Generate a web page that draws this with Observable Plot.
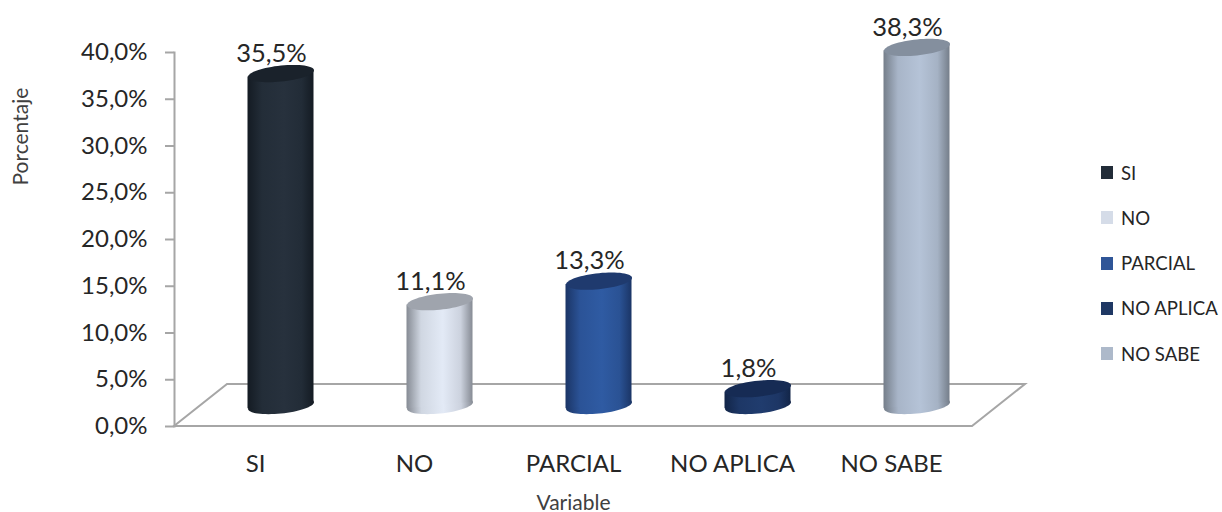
<!DOCTYPE html>
<html>
<head>
<meta charset="utf-8">
<script src="https://cdn.jsdelivr.net/npm/d3@7"></script>
<script src="https://cdn.jsdelivr.net/npm/@observablehq/plot@0.6"></script>
<style>
  html, body { margin: 0; padding: 0; background: #fff; }
  #chart { position: relative; width: 1222px; height: 512px; overflow: hidden; font-family: Lato, sans-serif; }
  #chart svg { display: block; position: absolute; left: 0; top: 0; }
  #legend { position: absolute; left: 1101px; top: 158.5px; }
  .item { height: 45.3px; line-height: 28px; display: flex; align-items: flex-start; font-size: 18.6px; color: #262626; white-space: nowrap; }
  .swatch { width: 12px; height: 13px; margin: 7.5px 8px 0 0; flex: none; }
</style>
</head>
<body>
<div id="chart"><div id="legend"></div></div>
<script>
const categories = ["SI", "NO", "PARCIAL", "NO APLICA", "NO SABE"];
const percentages = [35.5, 11.1, 13.3, 1.8, 38.3];
const yTicks = [0, 5, 10, 15, 20, 25, 30, 35, 40];
const swatchColors = ["#222c38", "#d5dce8", "#2f5597", "#1f3864", "#adb9ca"];
const capColors = ["#1a222b", "#9fa4ad", "#1f3a6e", "#162b54", "#848f9e"];
const edgeColors = ["#141b23", "#868b94", "#1b3566", "#122548", "#757e8a"];
const midColors = ["#27313d", "#e3eaf6", "#2f5ba3", "#203c6e", "#b5c3d7"];

const depthX = 53, depthY = 42, skew = 0.1, capA = 33, capB = 8;
const axisGrey = "#a6a6a6";
const rows = categories.map((category, i) => ({category, value: percentages[i], i}));
const pct = (v) => v.toFixed(1).replace(".", ",") + "%";
const gradient = (d) => `url(#cyl-${d.i})`;

const ellipse = {
  draw(context) {
    for (let k = 0; k < 64; ++k) {
      const t = (k / 64) * 2 * Math.PI;
      const px = capA * Math.cos(t);
      const py = capB * Math.sin(t) - skew * px;
      if (k === 0) context.moveTo(px, py); else context.lineTo(px, py);
    }
    context.closePath();
  }
};

function defsMark() {
  const defs = d3.create("svg:defs");
  rows.forEach((d) => {
    const g = defs.append("linearGradient").attr("id", `cyl-${d.i}`).attr("x1", 0).attr("x2", 1).attr("y1", 0).attr("y2", 0);
    [[0, edgeColors[d.i]], [0.22, d3.interpolateRgb(edgeColors[d.i], midColors[d.i])(0.8)], [0.55, midColors[d.i]], [0.82, d3.interpolateRgb(edgeColors[d.i], midColors[d.i])(0.75)], [1, edgeColors[d.i]]]
      .forEach(([o, c]) => g.append("stop").attr("offset", o).attr("stop-color", c));
  });
  return defs.node();
}

function floorMark(index, scales, values, dims) {
  const y0 = scales.y(0), l = dims.marginLeft, r = dims.width - dims.marginRight;
  return d3.create("svg:path")
    .attr("d", `M${l},${y0}L${r},${y0}L${r + depthX},${y0 - depthY}L${l + depthX},${y0 - depthY}Z`)
    .attr("fill", "none").attr("stroke", axisGrey).attr("stroke-width", 2).node();
}

const skewRects = (index, scales, values, dims, context, next) => {
  const g = next(index, scales, values, dims, context);
  d3.select(g).selectAll("rect").attr("transform", function () {
    const cx = +this.getAttribute("x") + this.getAttribute("width") / 2;
    return `matrix(1,${-skew},0,1,0,${skew * cx})`;
  });
  return g;
};

const offset = {dx: 25.5, dy: -depthY / 2};

const plot = Plot.plot({
  width: 1222, height: 512,
  marginLeft: 174, marginRight: 250, marginTop: 52, marginBottom: 86,
  style: {fontFamily: "Lato, sans-serif", background: "transparent", overflow: "visible"},
  color: {type: "identity"},
  x: {domain: categories, paddingInner: 0.586, paddingOuter: 0.293, label: null},
  y: {domain: [0, 40], label: null},
  marks: [
    defsMark,
    floorMark,
    Plot.frame({anchor: "left", stroke: axisGrey, strokeWidth: 2, strokeOpacity: 1}),
    Plot.axisY(yTicks, {tickFormat: pct, tickSize: 9, tickPadding: 18, stroke: axisGrey, strokeWidth: 2, fontSize: 24, fill: "#262626", label: null, textStroke: "none"}),
    Plot.axisX({tickSize: 0, tickPadding: 28, fontSize: 24, fill: "#262626", label: null}),
    Plot.dot(rows, {x: "category", y: () => 0, symbol: ellipse, fill: gradient, ...offset}),
    Plot.barY(rows, {x: "category", y: "value", fill: gradient, render: skewRects, ...offset}),
    Plot.dot(rows, {x: "category", y: "value", symbol: ellipse, fill: (d) => capColors[d.i], ...offset}),
    Plot.text(rows, {x: "category", y: "value", text: (d) => pct(d.value), dx: 16, dy: -41, fontSize: 25.5, fill: "#262626"}),
    Plot.text(["Porcentaje"], {frameAnchor: "top-left", dx: -161, dy: 133, rotate: -90, fontSize: 21, fill: "#404040"}),
    Plot.text(["Variable"], {frameAnchor: "bottom", dy: 83, fontSize: 21, fill: "#404040"})
  ]
});
document.getElementById("chart").prepend(plot);

const legend = d3.select("#legend");
categories.forEach((c, i) => {
  const item = legend.append("div").attr("class", "item");
  item.append("div").attr("class", "swatch").style("background", swatchColors[i]);
  item.append("span").text(c);
});
</script>
</body>
</html>
